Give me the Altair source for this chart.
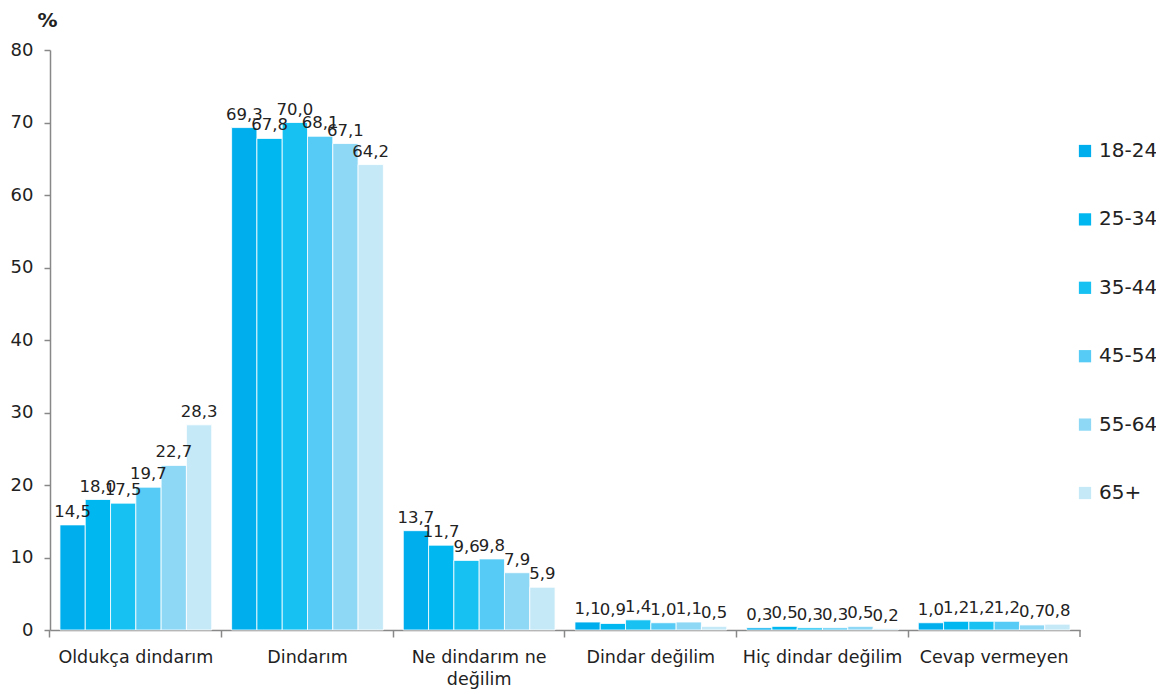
import altair as alt
import pandas as pd

categories = ["Oldukça dindarım", "Dindarım", "Ne dindarım ne değilim",
              "Dindar değilim", "Hiç dindar değilim", "Cevap vermeyen"]
age_groups = ["18-24", "25-34", "35-44", "45-54", "55-64", "65+"]
values = {
    "18-24": [14.5, 69.3, 13.7, 1.1, 0.3, 1.0],
    "25-34": [18.0, 67.8, 11.7, 0.9, 0.5, 1.2],
    "35-44": [17.5, 70.0, 9.6, 1.4, 0.3, 1.2],
    "45-54": [19.7, 68.1, 9.8, 1.0, 0.3, 1.2],
    "55-64": [22.7, 67.1, 7.9, 1.1, 0.5, 0.7],
    "65+":   [28.3, 64.2, 5.9, 0.5, 0.2, 0.8],
}
colors = ["#00AEEE", "#00B7F0", "#17C2F2", "#55CBF5", "#8ED8F6", "#C6E9F8"]

rows = []
for g in age_groups:
    for c, v in zip(categories, values[g]):
        rows.append({"cat": c, "grp": g, "v": v})
df = pd.DataFrame(rows)

FONT = "DejaVu Sans"
W, H = 1030, 580

xscale = alt.Scale(domain=categories, paddingInner=0.116, paddingOuter=0.058)
x = alt.X("cat:N", sort=categories, scale=xscale, title=None,
          axis=alt.Axis(labelAngle=0, labelFontSize=17.5, labelFont=FONT, labelColor="#222",
                        labelPadding=11, labelLineHeight=22, tickSize=7, tickColor="#888",
                        domainColor="#888", domainWidth=1.5, tickWidth=1.5,
                        bandPosition=-0.066,
                        labelExpr="datum.label == 'Ne dindarım ne değilim' ? ['Ne dindarım ne', 'değilim'] : datum.label"))
y = alt.Y("v:Q", scale=alt.Scale(domain=[0, 80]),
          axis=alt.Axis(values=list(range(0, 81, 10)), grid=False, labelFontSize=18, labelFont=FONT,
                        labelColor="#222", tickSize=6, tickColor="#888", domainColor="#888",
                        domainWidth=1.5, tickWidth=1.5, labelPadding=11,
                        title="%", titleAngle=0, titleFontSize=20, titleFont=FONT,
                        titleFontWeight="bold", titleColor="#222", titleX=-3, titleY=-20,
                        titleAlign="center"))
xo = alt.XOffset("grp:N", sort=age_groups, scale=alt.Scale(paddingInner=0, paddingOuter=0))

base = alt.Chart(df)
bars = base.mark_bar(stroke="white", strokeWidth=0.8).encode(
    x=x, y=y, xOffset=xo,
    color=alt.Color("grp:N", sort=age_groups,
                    scale=alt.Scale(domain=age_groups, range=colors),
                    legend=alt.Legend(title=None, orient="none", legendX=1025, legendY=91,
                                      labelFontSize=20, labelFont=FONT, labelColor="#222",
                                      symbolType="square", symbolSize=150, symbolStrokeWidth=0,
                                      rowPadding=48.4, labelOffset=4)),
)
labels = base.transform_calculate(
    lab="replace(format(datum.v, '.1f'), '.', ',')"
).mark_text(baseline="alphabetic", dy=-8, fontSize=16.5, font=FONT, color="#222").encode(
    x=alt.X("cat:N", sort=categories, scale=xscale),
    y="v:Q", xOffset=xo, text="lab:N",
)
endtick = alt.Chart(pd.DataFrame({"a": [0]})).mark_rule(color="#888", strokeWidth=1.5).encode(
    x=alt.value(W), y=alt.value(H), y2=alt.value(H + 7))

chart = alt.layer(bars, labels, endtick).properties(
    width=W, height=H,
    autosize=alt.AutoSizeParams(type="none"),
    padding={"left": 42, "top": 42, "right": 76, "bottom": 62},
).configure_view(stroke=None)

chart.save("out.html", embed_options={"renderer": "svg", "actions": False})
